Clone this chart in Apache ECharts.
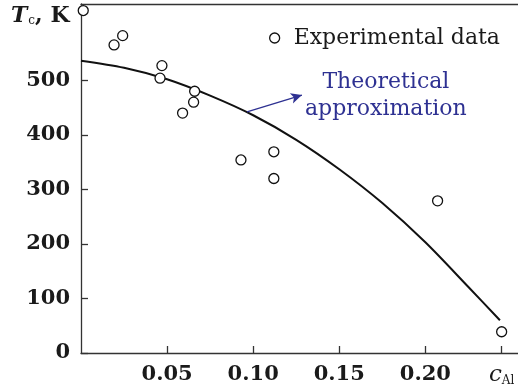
<!DOCTYPE html>
<html>
<head>
<meta charset="utf-8">
<script src="https://cdn.jsdelivr.net/npm/echarts@6/dist/echarts.min.js"></script>
<style>
  html, body { margin: 0; padding: 0; background: #fff; }
  #chart { width: 518px; height: 388px; }
</style>
</head>
<body>
<div id="chart"></div>
<script>
// Experimental data (c_Al, Tc in K)
const expX = [0.0013, 0.0192, 0.0242, 0.0470, 0.0459, 0.0660, 0.0654, 0.0590, 0.0929, 0.1120, 0.1120, 0.2071, 0.2443];
const expY = [628, 565, 582, 527, 504, 480, 460, 440, 354, 369, 320, 279, 39];
// Theoretical approximation curve
const curveX = [0, 0.025, 0.05, 0.075, 0.10, 0.125, 0.15, 0.175, 0.20, 0.225, 0.2433];
const curveY = [536, 523, 502, 472, 436, 391, 337, 275, 203, 121, 60];
// Tick labels
const xTicks = [0.05, 0.10, 0.15, 0.20, 0.2443];
const yTicks = [0, 100, 200, 300, 400, 500];
// Arrow of the annotation (data coordinates)
const arrowFrom = [0.0964, 442];
const arrowTo = [0.1283, 473];

const FONT = 'DejaVu Serif';
const chart = echarts.init(document.getElementById('chart'), null, {renderer: 'canvas'});

const option = {
  animation: false,
  backgroundColor: '#fff',
  grid: { left: 81, right: 0, top: 4, bottom: 35, outerBoundsMode: 'none', containLabel: false },
  legend: {
    show: true,
    data: ['Experimental data'],
    left: 264, top: 22,
    itemWidth: 10, itemHeight: 10,
    icon: 'circle',
    itemStyle: { color: '#fff', borderColor: '#111', borderWidth: 1.3 },
    textStyle: { fontFamily: FONT, fontSize: 22, color: '#1a1a1a', padding: [0, 0, 0, 9] }
  },
  xAxis: [{
    type: 'value', min: 0, max: 0.2538,
    axisLine: { show: true, lineStyle: { color: '#333', width: 1.3 } },
    axisTick: { show: true, inside: true, length: 7, customValues: xTicks, lineStyle: { color: '#333', width: 1.3 } },
    axisLabel: {
      customValues: xTicks, margin: 11, color: '#1a1a1a',
      fontFamily: FONT, fontSize: 21, fontWeight: 'bold',
      formatter: function (v) { return v > 0.24 ? '{c|c}{s|Al}' : v.toFixed(2); },
      rich: {
        c: { fontFamily: FONT, fontSize: 23, fontStyle: 'italic', fontWeight: 'normal', color: '#1a1a1a' },
        s: { fontFamily: FONT, fontSize: 12, fontWeight: 'normal', color: '#1a1a1a', verticalAlign: 'bottom', padding: [6, 0, 0, 0] }
      }
    },
    splitLine: { show: false }
  }, {
    type: 'value', min: 0, max: 0.2538, position: 'top',
    axisLine: { show: true, lineStyle: { color: '#333', width: 1.3 } },
    axisTick: { show: false }, axisLabel: { show: false }, splitLine: { show: false }
  }],
  yAxis: {
    type: 'value', min: 0, max: 640,
    axisLine: { show: true, lineStyle: { color: '#333', width: 1.3 } },
    axisTick: { show: true, inside: true, length: 7, customValues: yTicks, lineStyle: { color: '#333', width: 1.3 } },
    axisLabel: {
      customValues: yTicks, margin: 11, color: '#1a1a1a',
      fontFamily: FONT, fontSize: 21, fontWeight: 'bold', padding: [6, 0, 0, 0]
    },
    splitLine: { show: false }
  },
  graphic: [
    {
      type: 'text', left: 11, top: 5,
      style: {
        rich: {
          t: { fontFamily: FONT, fontSize: 22, fontStyle: 'italic', fontWeight: 'bold', fill: '#1a1a1a' },
          s: { fontFamily: FONT, fontSize: 12, fill: '#1a1a1a', padding: [9, 0, 0, 1] },
          k: { fontFamily: FONT, fontSize: 22, fontWeight: 'bold', fill: '#1a1a1a' }
        },
        text: '{t|T}{s|c}{k|, K}'
      }
    },
    {
      type: 'text', left: 305, top: 69,
      style: {
        text: 'Theoretical\napproximation',
        textAlign: 'center',
        fontFamily: FONT, fontSize: 22, lineHeight: 27, fill: '#2e3192'
      }
    }
  ],
  series: [
    {
      name: 'Theoretical approximation',
      type: 'line',
      data: curveX.map((x, i) => [x, curveY[i]]),
      smooth: 0.3,
      symbol: 'none',
      lineStyle: { color: '#111', width: 2 },
      z: 2,
      markLine: {
        silent: true,
        symbol: ['none', 'arrow'],
        symbolSize: [8, 11],
        label: { show: false },
        lineStyle: { color: '#2e3192', width: 1.3, type: 'solid' },
        data: [[{ coord: arrowFrom }, { coord: arrowTo }]]
      }
    },
    {
      name: 'Experimental data',
      type: 'scatter',
      data: expX.map((x, i) => [x, expY[i]]),
      symbol: 'circle',
      symbolSize: 10,
      itemStyle: { color: '#fff', borderColor: '#111', borderWidth: 1.3, opacity: 1 },
      clip: false,
      z: 3
    }
  ]
};
chart.setOption(option);
</script>
</body>
</html>
